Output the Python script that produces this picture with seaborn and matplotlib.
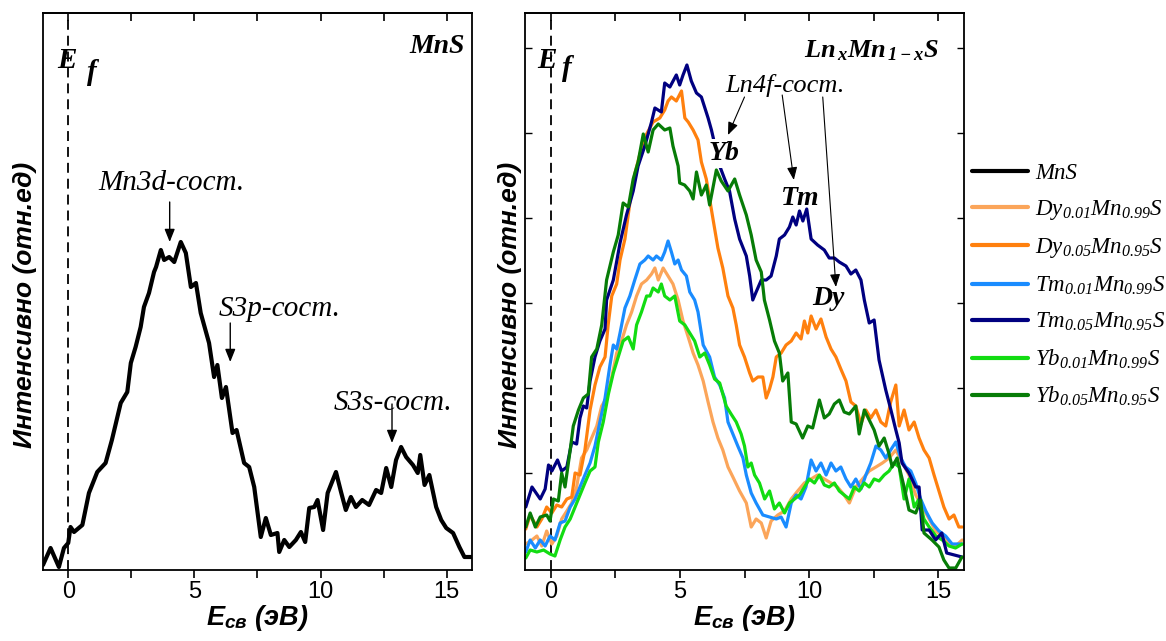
import matplotlib
matplotlib.use("Agg")
import matplotlib.pyplot as plt
import seaborn as sns
import pandas as pd
from matplotlib.lines import Line2D
from matplotlib.font_manager import FontProperties

# ---------------- data ----------------
mns_E = [-1.0,-0.70,-0.37,-0.17,0.0,0.09,0.23,0.56,0.82,1.15,1.48,1.73,2.08,2.34,2.48,2.67,2.87,3.0,3.2,3.40,
         3.48,3.67,3.80,4.0,4.2,4.46,4.66,4.86,5.06,5.25,5.58,5.78,5.91,6.09,6.25,6.51,6.67,6.97,7.17,7.37,
         7.63,7.83,8.03,8.29,8.36,8.56,8.76,9.02,9.22,9.39,9.55,9.75,9.88,10.1,10.28,10.61,10.81,11.0,11.2,11.4,
         11.65,11.92,12.2,12.4,12.6,12.8,12.99,13.19,13.39,13.66,13.85,13.95,14.12,14.31,14.58,14.78,14.98,15.25,15.5,15.7,16.0]
mns_I = [5,22,3,22,27,43,38,45,77,98,107,130,167,178,207,223,243,263,277,298,
         303,320,310,313,308,328,317,283,287,257,227,193,205,172,183,137,140,107,103,83,
         33,52,35,37,18,30,23,30,38,28,62,63,70,40,77,98,78,60,73,63,
         70,65,80,77,102,83,110,123,113,105,97,115,85,95,63,50,42,37,23,13,13]

dy01_E = [-0.97,-0.73,-0.54,-0.35,-0.16,0.04,0.23,0.42,0.62,0.81,1.0,1.19,1.39,1.58,1.78,1.97,2.16,2.36,2.55,2.74,
          2.93,3.13,3.32,3.51,3.71,3.90,4.03,4.16,4.35,4.54,4.73,4.93,5.12,5.32,5.51,5.70,5.90,6.09,6.28,6.47,
          6.66,6.86,7.05,7.31,7.57,7.76,7.95,8.15,8.34,8.53,8.79,9.05,9.31,9.56,9.82,10.08,10.33,10.59,10.85,11.1,
          11.36,11.56,11.81,12.07,12.33,12.59,12.84,13.10,13.36,13.62,13.87,14.13,14.39,14.65,14.9,15.16,15.42,15.67,15.93]
dy01_I = [26,30,34,24,39,26,34,51,59,67,83,112,120,132,144,164,172,193,217,229,
          245,258,274,286,290,296,302,290,302,294,286,270,249,233,217,205,189,168,148,132,
          120,103,93,79,67,43,51,47,32,49,55,59,71,79,87,91,95,91,87,83,
          75,67,83,91,99,103,107,112,120,107,95,75,63,51,39,34,26,24,30]

dy05_E = [-0.97,-0.8,-0.54,-0.35,-0.16,0.04,0.23,0.42,0.62,0.81,0.94,1.13,1.32,1.52,1.71,1.90,2.10,2.22,2.36,2.55,
          2.68,2.87,3.06,3.25,3.45,3.71,3.96,4.22,4.41,4.54,4.67,4.86,5.06,5.19,5.32,5.51,5.70,5.83,6.02,6.15,
          6.28,6.47,6.66,6.86,7.05,7.18,7.31,7.50,7.70,7.82,8.02,8.21,8.34,8.47,8.60,8.73,8.92,9.11,9.31,9.50,
          9.69,9.82,9.95,10.08,10.27,10.46,10.66,10.85,11.04,11.23,11.43,11.62,11.81,12.01,12.20,12.39,12.59,12.78,12.97,13.16,
          13.36,13.49,13.68,13.87,14.07,14.26,14.45,14.65,14.84,15.03,15.22,15.42,15.61,15.80,15.93]
dy05_I = [41,55,43,51,63,57,65,63,71,73,97,95,120,160,185,203,213,245,274,286,
          310,331,367,396,416,436,448,452,460,469,473,469,479,452,448,440,430,408,391,371,
          351,322,302,274,262,245,225,213,197,189,193,193,172,181,193,213,217,225,229,237,
          231,249,237,254,241,251,233,221,213,201,189,168,164,146,160,152,160,148,144,168,
          185,144,160,140,148,132,120,112,95,79,63,51,55,43,43]

tm01_E = [-0.97,-0.8,-0.6,-0.41,-0.22,-0.03,0.16,0.36,0.55,0.75,0.94,1.13,1.32,1.52,1.71,1.90,2.10,2.29,2.42,2.55,
          2.68,2.87,3.06,3.25,3.45,3.64,3.77,3.96,4.09,4.28,4.41,4.54,4.67,4.80,4.93,5.06,5.25,5.38,5.57,5.70,
          5.90,6.15,6.34,6.54,6.73,6.86,7.05,7.24,7.44,7.57,7.76,7.95,8.21,8.47,8.73,8.92,9.11,9.31,9.50,9.69,
          9.88,10.08,10.27,10.46,10.66,10.85,11.04,11.23,11.43,11.62,11.81,12.01,12.20,12.39,12.59,12.78,12.97,13.16,13.36,13.55,
          13.74,13.94,14.13,14.32,14.52,14.77,15.03,15.29,15.54,15.93]
tm01_I = [18,30,22,30,24,34,30,47,49,63,71,83,95,107,124,148,172,205,225,221,
          237,262,274,290,306,310,314,310,314,310,318,329,318,306,310,300,294,278,270,258,
          225,213,193,185,172,148,136,124,112,95,77,67,55,53,51,53,43,67,75,71,
          83,110,99,107,95,107,99,103,91,83,91,81,95,107,124,120,112,120,128,112,
          103,99,87,71,59,47,39,34,26,26]

tm05_E = [-0.97,-0.73,-0.41,-0.22,-0.09,0.04,0.26,0.42,0.62,0.81,1.0,1.13,1.26,1.39,1.52,1.71,1.90,2.10,2.16,2.42,
          2.68,2.93,3.19,3.38,3.64,3.90,4.03,4.28,4.41,4.61,4.86,4.99,5.12,5.27,5.44,5.64,5.83,6.09,6.22,6.54,
          6.73,6.92,7.12,7.31,7.57,7.70,7.82,7.95,8.15,8.34,8.53,8.73,8.85,9.05,9.24,9.37,9.50,9.63,9.76,9.91,
          10.08,10.33,10.59,10.78,10.98,11.17,11.43,11.62,11.81,12.01,12.14,12.33,12.52,12.71,12.97,13.17,13.36,13.49,13.60,13.87,
          14.13,14.26,14.38,14.65,14.9,15.14,15.33,15.92]
tm05_I = [63,83,71,81,105,99,110,99,103,128,126,152,164,162,189,213,229,241,270,290,
          327,355,379,404,424,448,462,458,487,483,495,485,495,505,489,477,473,452,440,404,
          391,379,351,331,314,294,270,278,290,290,294,314,331,335,343,353,345,359,349,361,
          331,325,320,312,312,308,304,296,300,290,270,247,250,210,180,160,140,127,107,97,
          83,83,40,40,30,37,17,13]

yb01_E = [-0.97,-0.8,-0.54,-0.28,-0.03,0.16,0.36,0.55,0.75,0.94,1.13,1.32,1.52,1.71,1.84,2.03,2.23,2.42,2.61,2.80,
          3.0,3.19,3.32,3.51,3.71,3.84,3.96,4.16,4.28,4.41,4.61,4.80,4.99,5.19,5.38,5.57,5.77,5.96,6.15,6.34,
          6.54,6.79,6.98,7.18,7.37,7.50,7.63,7.76,7.89,8.08,8.28,8.47,8.66,8.85,9.05,9.24,9.44,9.63,9.82,10.01,
          10.21,10.40,10.59,10.78,10.98,11.17,11.36,11.56,11.75,11.94,12.14,12.33,12.52,12.71,12.91,13.10,13.29,13.49,13.68,13.87,
          14.07,14.26,14.45,14.65,14.91,15.16,15.42,15.67,15.93]
yb01_I = [12,20,18,20,16,14,30,43,51,63,75,87,99,103,128,148,176,197,213,229,
          233,221,245,258,274,274,282,278,286,274,270,274,249,245,237,229,213,217,205,191,
          187,164,156,148,136,124,103,107,95,87,71,79,61,67,57,67,71,75,83,91,
          87,95,85,83,87,79,75,71,83,79,87,83,91,89,95,99,107,103,71,91,
          63,71,51,43,34,30,24,22,26]

yb05_E = [-0.97,-0.8,-0.6,-0.41,-0.16,-0.03,0.10,0.29,0.42,0.55,0.75,0.87,1.07,1.26,1.45,1.58,1.78,1.97,2.16,2.42,
          2.61,2.80,3.0,3.19,3.38,3.58,3.77,3.96,4.16,4.41,4.61,4.73,4.93,4.99,5.18,5.38,5.51,5.64,5.83,6.02,
          6.15,6.41,6.60,6.86,7.12,7.31,7.57,7.76,7.95,8.15,8.27,8.47,8.66,8.85,8.98,9.18,9.31,9.50,9.75,9.95,
          10.14,10.40,10.59,10.78,10.98,11.17,11.36,11.56,11.81,11.94,12.14,12.33,12.52,12.71,12.91,13.10,13.22,13.41,13.68,13.87,
          14.13,14.32,14.45,14.76,15.03,15.22,15.42,15.68,15.92]
yb05_I = [43,57,43,53,55,49,71,69,97,83,120,144,160,172,176,213,221,245,290,318,
          335,367,363,391,408,436,418,440,446,440,442,424,404,387,385,379,371,398,375,385,
          365,400,389,379,391,375,355,335,310,298,270,250,229,217,189,197,148,146,132,144,
          142,170,152,156,166,170,158,156,164,136,160,150,140,124,132,116,103,112,83,60,
          57,70,37,30,23,10,2,2,13]

samples = ["MnS", "Dy0.01", "Dy0.05", "Tm0.01", "Tm0.05", "Yb0.01", "Yb0.05"]
legend_labels = ["MnS",
                 r"Dy$_{0.01}$Mn$_{0.99}$S", r"Dy$_{0.05}$Mn$_{0.95}$S",
                 r"Tm$_{0.01}$Mn$_{0.99}$S", r"Tm$_{0.05}$Mn$_{0.95}$S",
                 r"Yb$_{0.01}$Mn$_{0.99}$S", r"Yb$_{0.05}$Mn$_{0.95}$S"]
colors = ["#000000", "#FBA55A", "#FF800E", "#1A8CFF", "#000080", "#12DC12", "#077C07"]
xtick_pos = [0, 2.5, 5, 7.5, 10, 12.5, 15]
xtick_labels = ["0", "", "5", "", "10", "", "15"]
ytick_pos = [97, 182, 267, 352, 437, 522]

# ---------------- style ----------------
sns.set_theme(style="white")
plt.rcParams["font.family"] = ["Liberation Sans", "DejaVu Sans"]
plt.rcParams["text.color"] = "black"
plt.rcParams["axes.labelcolor"] = "black"
plt.rcParams["xtick.color"] = "black"
plt.rcParams["ytick.color"] = "black"
plt.rcParams["mathtext.fontset"] = "custom"
plt.rcParams["mathtext.rm"] = "Liberation Serif:italic"
plt.rcParams["mathtext.it"] = "Liberation Serif:italic"
plt.rcParams["mathtext.bf"] = "Liberation Serif:italic:bold"
plt.rcParams["mathtext.sf"] = "Liberation Sans:italic:bold"

W, H = 1166, 641
fig = plt.figure(figsize=(W / 100, H / 100), dpi=100)
ax1 = fig.add_axes([43 / W, 1 - 570 / H, 429 / W, 557 / H])
ax2 = fig.add_axes([525 / W, 1 - 570 / H, 439 / W, 557 / H])

pal = dict(zip(samples, colors))

# left panel
sns.lineplot(x=mns_E, y=mns_I, color=pal["MnS"], lw=3.0, sort=False, estimator=None, ax=ax1)

# right panel (long form)
series = {"Dy0.01": (dy01_E, dy01_I), "Tm0.01": (tm01_E, tm01_I), "Yb0.01": (yb01_E, yb01_I),
          "Dy0.05": (dy05_E, dy05_I), "Tm0.05": (tm05_E, tm05_I), "Yb0.05": (yb05_E, yb05_I)}
frames = [pd.DataFrame({"E": e, "I": i, "sample": k}) for k, (e, i) in series.items()]
df = pd.concat(frames, ignore_index=True)
sns.lineplot(data=df, x="E", y="I", hue="sample", hue_order=list(series.keys()), palette=pal,
             lw=2.3, sort=False, estimator=None, legend=False, ax=ax2)

serif_bi = dict(fontfamily="Liberation Serif", fontweight="bold", fontstyle="italic", color="black")
serif_i = dict(fontfamily="Liberation Serif", fontstyle="italic", color="black")

for ax, xl in ((ax1, -0.014), (ax2, -0.007)):
    ax.set_xlim(-1, 16)
    ax.set_ylim(0, 557)
    ax.axvline(0, color="black", lw=1.3, ls=(0, (5.5, 3.3)), zorder=1)
    ax.set_xticks(xtick_pos)
    ax.set_xticklabels(xtick_labels)
    ax.tick_params(axis="x", which="major", direction="out", length=6, width=1.2, color="black",
                   bottom=True, labelsize=17, pad=2, labelcolor="black")
    sec = ax.secondary_xaxis("top")
    sec.set_xticks(xtick_pos)
    sec.set_xticklabels([])
    sec.tick_params(direction="in", length=6, width=1.2, color="black")
    for s in ax.spines.values():
        s.set_color("black")
        s.set_linewidth(1.3)
    for s in sec.spines.values():
        s.set_linewidth(1.3)
        s.set_color("black")
    ax.set_xlabel(r"$\mathsf{E}_{\mathsf{св}}$ (эВ)", fontsize=19.5, fontweight="bold", fontstyle="italic",
                  labelpad=0, color="black")
    ax.set_ylabel("Интенсивно (отн.ед)", fontsize=19, fontweight="bold", fontstyle="italic",
                  color="black")
    ax.yaxis.set_label_coords(xl, 0.476)

ax1.set_yticks([])
ax2.set_yticks(ytick_pos)
ax2.set_yticklabels([])
ax2.tick_params(axis="y", direction="in", length=5, width=1.0, color="black", left=True, right=True)

# E_f labels
ax1.text(-0.07, 509, "E", fontsize=21, ha="center", va="center", **serif_bi)
ax1.text(0.94, 498, "f", fontsize=21, ha="center", va="center", **serif_bi)
ax2.text(-0.16, 510, "E", fontsize=21, ha="center", va="center", **serif_bi)
ax2.text(0.63, 501, "f", fontsize=21, ha="center", va="center", **serif_bi)

# left panel annotations
ax1.text(15.70, 517, "MnS", fontsize=20, ha="right", va="baseline", **serif_bi)
arrow = dict(arrowstyle="-|>,head_length=0.55,head_width=0.22", color="black", lw=1.0,
             shrinkA=0, shrinkB=0, mutation_scale=14)
ax1.text(4.10, 380, "Mn3d-сост.", fontsize=21, ha="center", va="baseline", **serif_i)
ax1.annotate("", xy=(4.02, 328), xytext=(4.02, 368), arrowprops=arrow)
ax1.text(8.36, 254, "S3p-сост.", fontsize=21, ha="center", va="baseline", **serif_i)
ax1.annotate("", xy=(6.42, 208), xytext=(6.42, 247), arrowprops=arrow)
ax1.text(12.88, 160, "S3s-сост.", fontsize=21, ha="center", va="baseline", **serif_i)
ax1.annotate("", xy=(12.83, 127), xytext=(12.83, 166), arrowprops=arrow)

# right panel annotations
ax2.text(15.03, 513, r"$\mathbf{Ln}_{\,\mathbf{x}}\mathbf{Mn}_{\,\mathbf{1-x}}\mathbf{S}$", fontsize=19,
         ha="right", va="baseline", color="black")
ax2.text(9.05, 478, "Ln4f-сост.", fontsize=19, ha="center", va="baseline", **serif_i)
thin = dict(arrowstyle="-|>,head_length=0.55,head_width=0.22", color="black", lw=0.8,
            shrinkA=0, shrinkB=0, mutation_scale=14)
ax2.annotate("", xy=(6.86, 435), xytext=(7.50, 473), arrowprops=thin)
ax2.annotate("", xy=(9.41, 390), xytext=(8.96, 475), arrowprops=thin)
ax2.annotate("", xy=(11.04, 283), xytext=(10.53, 473), arrowprops=thin)
ax2.text(6.70, 410, "Yb", fontsize=20, ha="center", va="baseline", zorder=6,
         bbox=dict(facecolor="white", edgecolor="none", pad=1.5), **serif_bi)
ax2.text(9.65, 365, "Tm", fontsize=20, ha="center", va="baseline", **serif_bi)
ax2.text(10.75, 265, "Dy", fontsize=20, ha="center", va="baseline", **serif_bi)

# legend
handles = [Line2D([0], [0], color=pal[s], lw=3) for s in samples]
leg = fig.legend(handles, legend_labels, loc="upper left", bbox_to_anchor=(972 / W, 1 - 163 / H),
                 frameon=False, prop=FontProperties(family="Liberation Serif", style="italic", size=16.5),
                 handlelength=2.45, handletextpad=0.3, labelspacing=0.62, borderpad=0, borderaxespad=0)
for t in leg.get_texts():
    t.set_color("black")

fig.savefig("out.png", dpi=100)
